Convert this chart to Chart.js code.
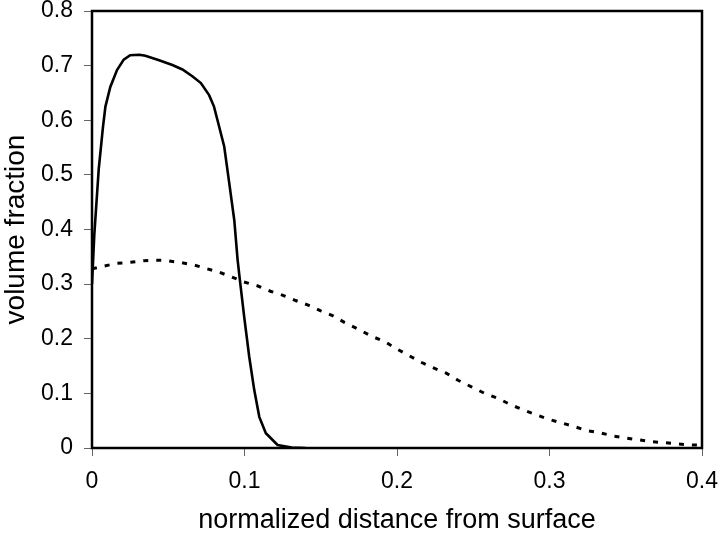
<!DOCTYPE html>
<html>
<head>
<meta charset="utf-8">
<script src="https://cdn.jsdelivr.net/npm/chart.js@4.4.1/dist/chart.umd.min.js"></script>
<style>
  html, body { margin: 0; padding: 0; background: #ffffff; }
  #c { display: block; }
</style>
</head>
<body>
<canvas id="c" width="720" height="534"></canvas>
<script>
// ---- data ----
const solidX = [0, 0.0015, 0.0044, 0.0072, 0.0088, 0.012, 0.0164, 0.0208, 0.025, 0.031, 0.035, 0.044, 0.0527, 0.0593, 0.066, 0.0714, 0.0768, 0.080, 0.0823, 0.0867, 0.090, 0.0933, 0.0955, 0.097, 0.0998, 0.1031, 0.1064, 0.1097, 0.114, 0.1217, 0.131, 0.14];
const solidY = [0.30, 0.39, 0.51, 0.588, 0.625, 0.661, 0.692, 0.711, 0.719, 0.720, 0.718, 0.710, 0.701, 0.693, 0.680, 0.668, 0.646, 0.625, 0.600, 0.552, 0.485, 0.417, 0.344, 0.307, 0.240, 0.167, 0.106, 0.057, 0.027, 0.0055, 0.001, 0];

const dottedX = [0, 0.0077, 0.0164, 0.0252, 0.034, 0.0416, 0.049, 0.059, 0.0668, 0.0744, 0.0832, 0.0908, 0.0996, 0.1084, 0.117, 0.1248, 0.1335, 0.1414, 0.150, 0.158, 0.1655, 0.175, 0.183, 0.1918, 0.1995, 0.208, 0.2159, 0.2235, 0.2323, 0.240, 0.2488, 0.2575, 0.2662, 0.274, 0.2816, 0.2903, 0.299, 0.309, 0.3166, 0.3243, 0.333, 0.3418, 0.3505, 0.3593, 0.367, 0.3757, 0.3845, 0.394, 0.40];
const dottedY = [0.328, 0.333, 0.338, 0.340, 0.343, 0.344, 0.343, 0.339, 0.335, 0.329, 0.322, 0.314, 0.304, 0.297, 0.287, 0.280, 0.270, 0.262, 0.251, 0.242, 0.230, 0.217, 0.205, 0.195, 0.182, 0.169, 0.157, 0.147, 0.137, 0.124, 0.112, 0.100, 0.091, 0.080, 0.071, 0.062, 0.053, 0.045, 0.039, 0.032, 0.028, 0.022, 0.018, 0.0146, 0.0115, 0.0097, 0.0073, 0.0055, 0.005];

const xTickLabels = ['0', '0.1', '0.2', '0.3', '0.4'];
const yTickLabels = ['0', '0.1', '0.2', '0.3', '0.4', '0.5', '0.6', '0.7', '0.8'];
const xTitle = 'normalized distance from surface';
const yTitle = 'volume fraction';

// ---- build points ----
const toPoints = (xs, ys) => xs.map((x, i) => ({ x: x, y: ys[i] }));

const FONT = '"Liberation Sans", Arial, Helvetica, sans-serif';

const frame = {
  id: 'frame',
  afterDatasetsDraw(chart) {
    const a = chart.chartArea;
    const ctx = chart.ctx;
    ctx.save();
    ctx.strokeStyle = '#000';
    ctx.lineWidth = 2.5;
    ctx.strokeRect(a.left, a.top, a.right - a.left, a.bottom - a.top);
    ctx.restore();
  }
};

new Chart(document.getElementById('c'), {
  type: 'scatter',
  data: {
    datasets: [
      {
        data: toPoints(solidX, solidY),
        showLine: true,
        borderColor: '#000',
        borderWidth: 2.6,
        pointRadius: 0,
        tension: 0,
        fill: false
      },
      {
        data: toPoints(dottedX, dottedY),
        showLine: true,
        borderColor: '#000',
        borderWidth: 3,
        borderDash: [5, 8],
        borderCapStyle: 'butt',
        pointRadius: 0,
        tension: 0,
        fill: false
      }
    ]
  },
  options: {
    responsive: false,
    animation: false,
    events: [],
    layout: { padding: { top: 11, right: 18, left: 0, bottom: 0 } },
    plugins: { legend: { display: false }, tooltip: { enabled: false } },
    scales: {
      x: {
        type: 'linear',
        min: 0, max: 0.4,
        afterBuildTicks(scale) {
          scale.ticks = xTickLabels.map(v => ({ value: parseFloat(v) }));
        },
        afterFit(scale) { scale.height = 86; scale.paddingLeft = 0; scale.paddingRight = 0; },
        ticks: {
          color: '#000',
          font: { family: FONT, size: 23, lineHeight: 1.2 },
          padding: 12,
          maxRotation: 0,
          callback: (v, i) => xTickLabels[i]
        },
        grid: { display: true, drawOnChartArea: false, drawTicks: true, tickLength: 8, color: '#666', lineWidth: 1 },
        border: { display: false },
        title: {
          display: true,
          text: xTitle,
          color: '#000',
          font: { family: FONT, size: 27, lineHeight: 1 },
          padding: { top: 0, bottom: 0 }
        }
      },
      y: {
        type: 'linear',
        min: 0, max: 0.8,
        afterBuildTicks(scale) {
          scale.ticks = yTickLabels.map(v => ({ value: parseFloat(v) }));
        },
        afterFit(scale) { scale.width = 92; scale.paddingTop = 0; scale.paddingBottom = 0; },
        ticks: {
          color: '#000',
          font: { family: FONT, size: 23, lineHeight: 1.2 },
          padding: 11,
          callback: (v, i) => yTickLabels[i]
        },
        grid: { display: true, drawOnChartArea: false, drawTicks: true, tickLength: 8, color: '#666', lineWidth: 1 },
        border: { display: false },
        title: {
          display: true,
          text: yTitle,
          color: '#000',
          font: { family: FONT, size: 28, lineHeight: 1 },
          padding: { top: 2, bottom: 0 }
        }
      }
    }
  },
  plugins: [frame]
});
</script>
</body>
</html>
